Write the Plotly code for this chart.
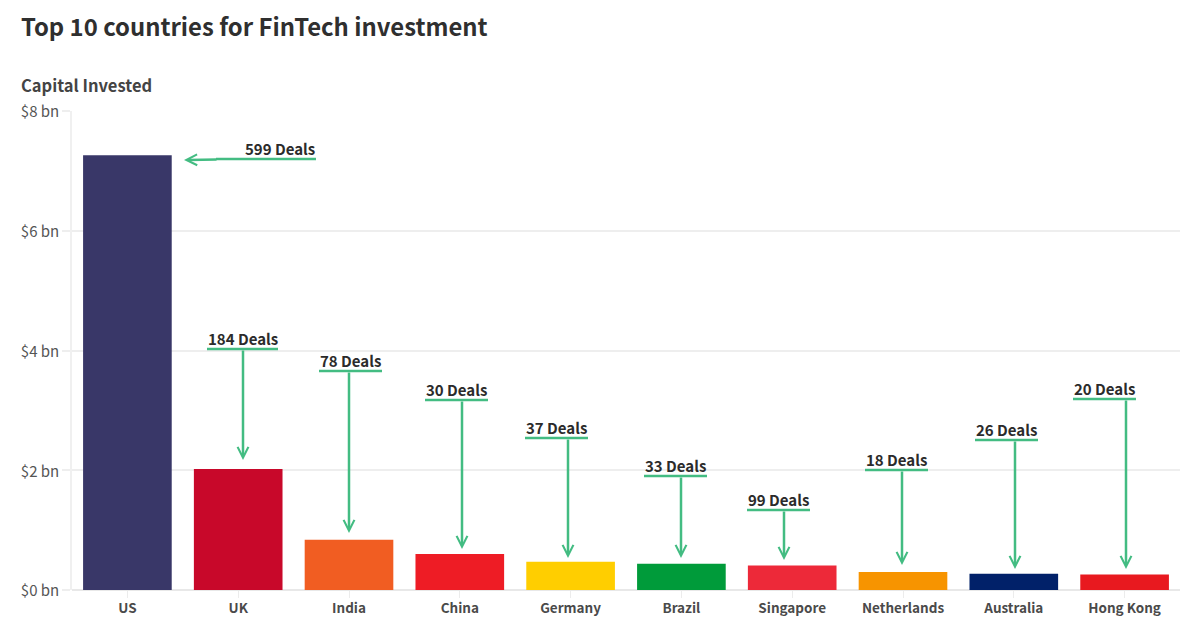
import plotly.graph_objects as go

countries = ["US", "UK", "India", "China", "Germany", "Brazil", "Singapore", "Netherlands", "Australia", "Hong Kong"]
capital_bn = [7.26, 2.02, 0.84, 0.60, 0.47, 0.44, 0.41, 0.30, 0.27, 0.26]
deals = [599, 184, 78, 30, 37, 33, 99, 18, 26, 20]
bar_colors = ["#393768", "#c8082a", "#f15d22", "#ee1c25", "#ffce00", "#009b3a", "#ed2939", "#f79400", "#012169", "#e8191f"]
y_ticks = [0, 2, 4, 6, 8]
y_tick_labels = ["$0 bn", "$2 bn", "$4 bn", "$6 bn", "$8 bn"]

FONT = "Noto Sans CJK SC"
GREEN = "#43bc82"
L, R, T, B = 72, 20, 111, 36
W, H = 1200, 626
PLOT_W = W - L - R
PLOT_H = H - T - B

def xp(px):
    return (px - L) / PLOT_W

def yp(py):
    return (H - B - py) / PLOT_H

# callout layout in pixels: bar-line y, bar-line x0, x1, stem x, arrow tip y
callouts = [
    (349, 207, 278, 243, 460),
    (371, 319, 382, 349, 533),
    (400, 425, 488, 462, 549),
    (438, 525, 588, 568, 558),
    (476, 644, 707, 681, 558),
    (510, 747, 810, 784, 560),
    (470, 865, 928, 902, 565),
    (440, 975, 1038, 1015, 569),
    (399, 1073, 1136, 1126, 569),
]

fig = go.Figure(go.Bar(x=countries, y=capital_bn, marker_color=bar_colors, marker_line_width=0, width=0.8))

anns = []
shapes = []
def line(x0, y0, x1, y1):
    shapes.append(dict(type="line", xref="paper", yref="paper", x0=xp(x0), x1=xp(x1), y0=yp(y0), y1=yp(y1),
                       line=dict(color=GREEN, width=2.5), layer="above"))

def arrow(x0, y0, x1, y1):
    anns.append(dict(xref="paper", yref="paper", axref="pixel", ayref="pixel", x=xp(x1), y=yp(y1),
                     ax=x0 - x1, ay=y0 - y1, text="", showarrow=True, arrowhead=5, arrowsize=0.85,
                     arrowwidth=2.5, arrowcolor=GREEN))

def label(text, xc, ybase):
    anns.append(dict(xref="paper", yref="paper", x=xp(xc), y=yp(ybase), text=f"<b>{text}</b>", showarrow=False,
                     xanchor="center", yanchor="bottom", yshift=-2,
                     font=dict(family=FONT, size=15, color="#2b2b2b")))

# US callout runs sideways
line(216, 159, 316, 159)
arrow(218, 159.5, 184, 160)
label(f"{deals[0]} Deals", 280, 159)
for d, (ly, x0, x1, sx, tip) in zip(deals[1:], callouts):
    line(x0, ly, x1, ly)
    arrow(sx, ly, sx, tip)
    label(f"{d} Deals", (x0 + x1) / 2, ly)

anns.append(dict(xref="paper", yref="paper", x=xp(19), y=yp(25.5), text="<b>Top 10 countries for FinTech investment</b>",
                 showarrow=False, xanchor="left", yanchor="middle",
                 font=dict(family=FONT, size=23.85, color="#2f2f2f")))
anns.append(dict(xref="paper", yref="paper", x=xp(19), y=yp(84.5), text="<b>Capital Invested</b>",
                 showarrow=False, xanchor="left", yanchor="middle",
                 font=dict(family=FONT, size=16.5, color="#444444")))

fig.update_layout(
    width=W, height=H, autosize=False,
    margin=dict(l=L, r=R, t=T, b=B, pad=0),
    paper_bgcolor="white", plot_bgcolor="white",
    showlegend=False, bargap=0.2,
    annotations=anns, shapes=shapes,
    font=dict(family=FONT),
)
fig.update_xaxes(
    type="category", showgrid=False, showline=False, zeroline=False, automargin=False,
    ticks="outside", ticklen=7, tickwidth=1, tickcolor="#ececec", ticklabelstandoff=-1,
    tickfont=dict(family=FONT, size=13.5, color="#4a4a4a"),
    tickvals=countries, ticktext=[f"<b>{c}</b>" for c in countries], tickangle=0,
)
fig.update_yaxes(
    range=[0, 8], tickvals=y_ticks, ticktext=y_tick_labels, automargin=False,
    showgrid=True, gridcolor="#eeeeee", gridwidth=1.5,
    showline=True, linecolor="#f0f0f0", linewidth=1.5,
    zeroline=True, zerolinecolor="#e8e8e8", zerolinewidth=2,
    ticks="outside", ticklen=8, tickcolor="#eeeeee", tickwidth=1.5, ticklabelshift=1,
    tickfont=dict(family=FONT, size=15, color="#555555"),
)
fig.write_html("out.html", config=dict(displayModeBar=False),
               post_script="document.body.style.margin='0';")
